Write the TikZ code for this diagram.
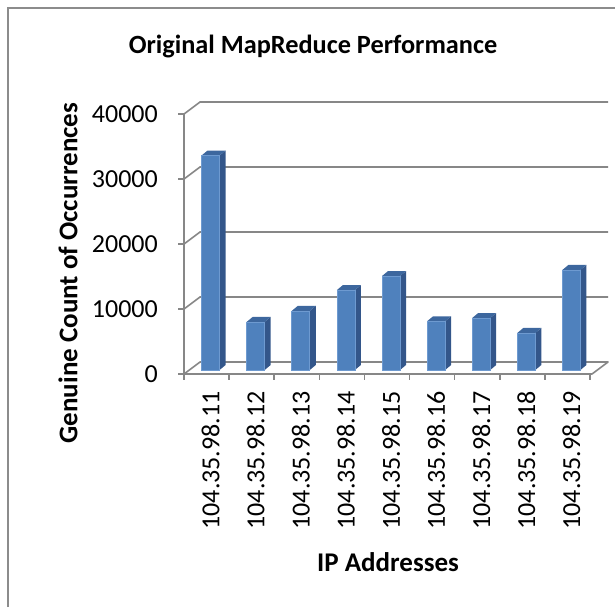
\documentclass[tikz,border=0pt]{standalone}
\usepackage{fontspec}
\setmainfont{Carlito}
\definecolor{framegray}{HTML}{8C8C8C}
\definecolor{gridgray}{HTML}{878787}
\definecolor{barfront}{HTML}{4F81BD}
\definecolor{barside}{HTML}{33568A}
\definecolor{bartop}{HTML}{3D679E}
\definecolor{baredge}{HTML}{6E9AD0}
\begin{document}
\begin{tikzpicture}[x=1pt,y=1pt,
  gridline/.style={draw=gridgray,line width=1.6pt},
  ticklab/.style={font=\fontsize{26}{31}\selectfont,inner sep=0pt},
  axtitle/.style={font=\bfseries\fontsize{27}{32}\selectfont,inner sep=0pt},
  charttitle/.style={font=\bfseries\fontsize{26.3}{31}\selectfont,inner sep=0pt},
  front/.style={fill=barfront,draw=baredge,line width=0.6pt},
  side/.style={fill=barside,draw=none},
  topface/.style={fill=bartop,draw=none}]
\useasboundingbox (0,0) rectangle (615,-607);
% outer frame
\coordinate (fbl) at (8,-607);
\coordinate (ftl) at (8,-8);
\coordinate (ftr) at (615,-8);
\draw[framegray,line width=1.5pt] (fbl) -- (ftl) -- (ftr);
% gridlines and floor
\foreach \v in {1,2,3,4} {
  \pgfmathsetmacro\yf{374-65*\v}
  \coordinate (gf\v) at (184,-\yf);
  \coordinate (gb\v) at (200,-\yf+12);
  \coordinate (ge\v) at (608,-\yf+12);
  \draw[gridline] (gf\v) -- (gb\v) -- (ge\v);
}
\coordinate (fl1) at (184,-374);
\coordinate (fl2) at (200,-362);
\coordinate (fl3) at (608,-362);
\coordinate (fl4) at (592,-374);
\draw[gridline,line join=round] (fl1) -- (fl2) -- (fl3) -- (fl4) -- cycle;
% vertical axis
\coordinate (axtop) at (184,-114);
\draw[gridline] (axtop) -- (fl1);
\foreach \v/\t in {0/0,1/10000,2/20000,3/30000,4/40000} {
  \pgfmathsetmacro\yf{374-65*\v}
  \coordinate (yt\v) at (184,-\yf);
  \draw[gridline] (yt\v) -- ++(-6,0);
  \node[ticklab,anchor=east] (yl\v) at (158,-\yf) {\t};
}
% category ticks
\foreach \i in {0,...,9} {
  \coordinate (xt\i) at ({184+45.11*\i},-374);
  \draw[gridline] (xt\i) -- ++(0,-6);
}
% bars (values in thousands)
\foreach \val [count=\i] in {33.0,7.4,9.1,12.3,14.45,7.5,8.0,5.7,15.4} {
  \pgfmathsetmacro\cx{184+45.11*(\i-0.5)+4}
  \pgfmathsetmacro\h{\val*6.5}
  \coordinate (bb\i) at (\cx-9,-370);
  \coordinate (bt\i) at (\cx+9,-370+\h);
  \fill[side] (\cx+9,-370) -- (\cx+15,-365) -- (\cx+15,-365+\h) -- (\cx+9,-370+\h) -- cycle;
  \fill[topface] (\cx-9,-370+\h) -- (\cx+9,-370+\h) -- (\cx+15,-365+\h) -- (\cx-3,-365+\h) -- cycle;
  \draw[front] (bb\i) rectangle (bt\i);
  \node[ticklab,rotate=90,anchor=east] (cl\i) at (\cx,-391) {104.35.98.1\i};
}
% titles
\node[charttitle] (title) at (313,-47) {Original MapReduce Performance};
\node[axtitle,rotate=90] (ytitle) at (68,-273) {Genuine Count of Occurrences};
\node[axtitle] (xtitle) at (388,-562) {IP Addresses};
\end{tikzpicture}
\end{document}
